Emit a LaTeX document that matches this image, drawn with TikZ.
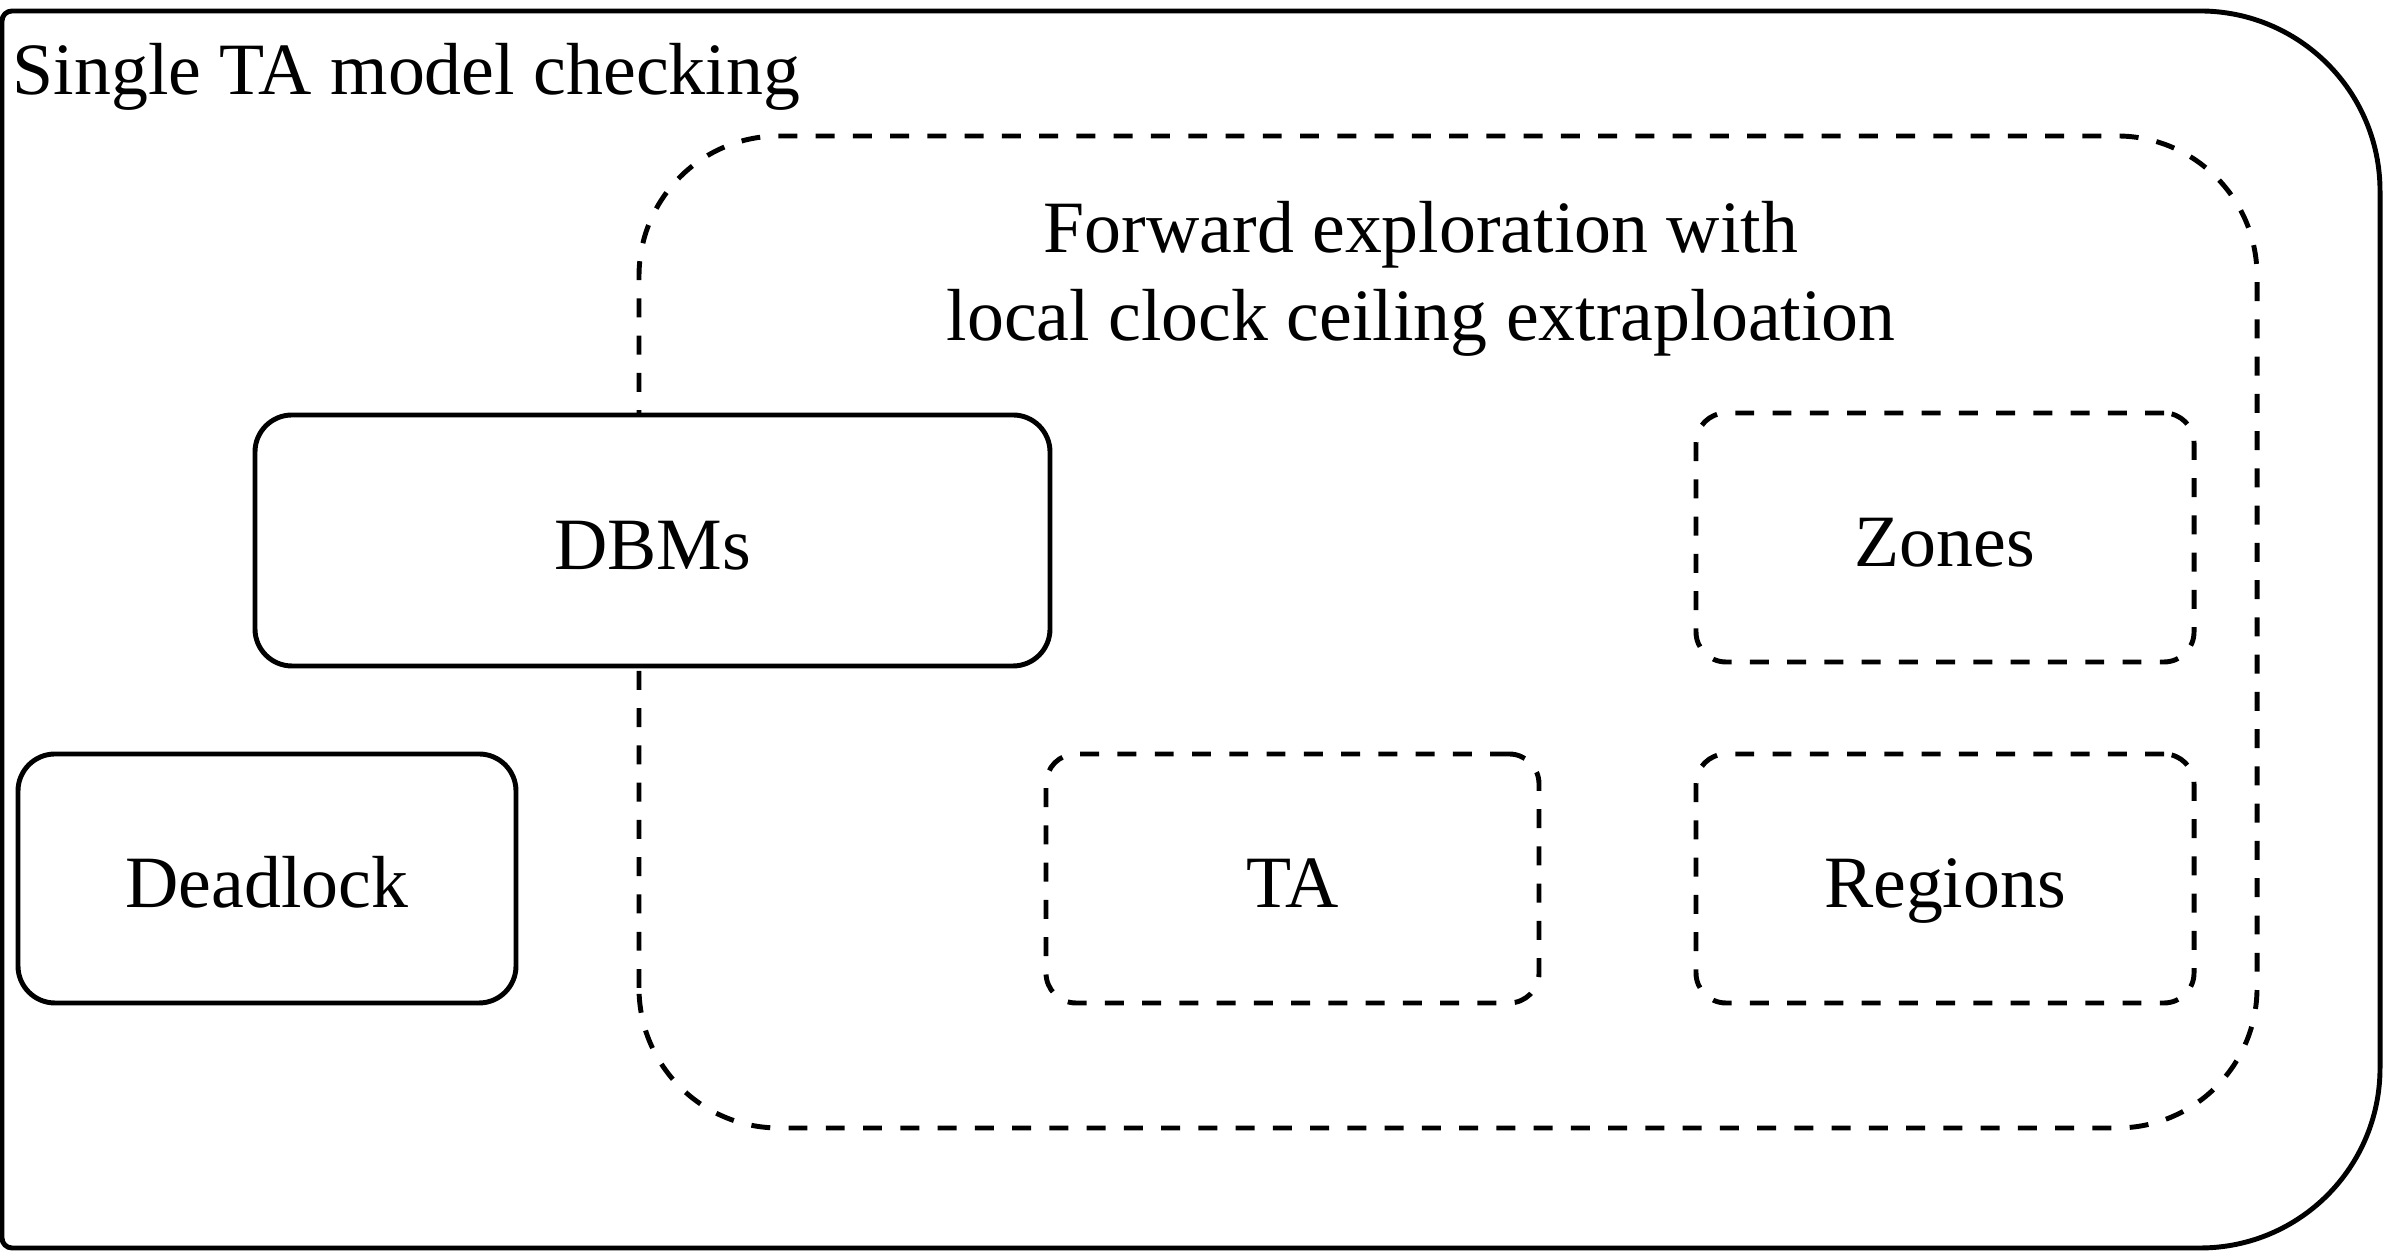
\documentclass[tikz,border=0pt]{standalone}
\usepackage{fontspec}
\setmainfont{Liberation Serif}
\usepackage{tikz}
\usetikzlibrary{positioning}

\tikzset{
  solidbox/.style={draw, line width=1.4pt, rounded corners=0.37cm, fill=white,
    minimum width=4.98cm, minimum height=2.49cm, inner sep=0pt,
    text height=20pt, text depth=3.4pt},
  dashbox/.style={solidbox, dash pattern=on 5.4pt off 5.2pt, rounded corners=0.3cm},
}

\begin{document}
\begin{tikzpicture}[font=\fontsize{21}{25.2}\selectfont]
            \useasboundingbox (0,0) rectangle (23.94,12.51);
            % 外框
            \draw[line width=1.4pt] (0.02,0.13) -- (0.02,12.30) arc[start angle=180, end angle=90, radius=0.1]
                -- (22.0,12.40) arc[start angle=90, end angle=0, radius=1.8]
                -- (23.80,1.83) arc[start angle=0, end angle=-90, radius=1.8]
                -- (0.12,0.03) arc[start angle=270, end angle=180, radius=0.1] -- cycle;
            \node[anchor=base west, inner sep=0pt] (title) at (0.12,11.56) {Single TA model checking};
            % 前向探索区域
            \draw[line width=1.4pt, dash pattern=on 5.4pt off 5.2pt, rounded corners=1.4cm] (6.39,1.23) rectangle (22.57,11.15);
            \node[align=center, inner sep=0pt] (fwd) at (14.21,9.72) {Forward exploration with\\local clock ceiling extraploation};
            \node[solidbox, minimum width=7.95cm, minimum height=2.51cm] (dbm) at (6.525,7.105) {DBMs};
            \node[solidbox] (dead) at (2.67,3.725) {Deadlock};
            \node[dashbox, minimum width=4.93cm] (ta) at (12.925,3.725) {TA};
            \node[dashbox] (zones) at (19.45,7.135) {Zones};
            \node[dashbox] (regions) at (19.45,3.725) {Regions};
        \end{tikzpicture}
\end{document}
